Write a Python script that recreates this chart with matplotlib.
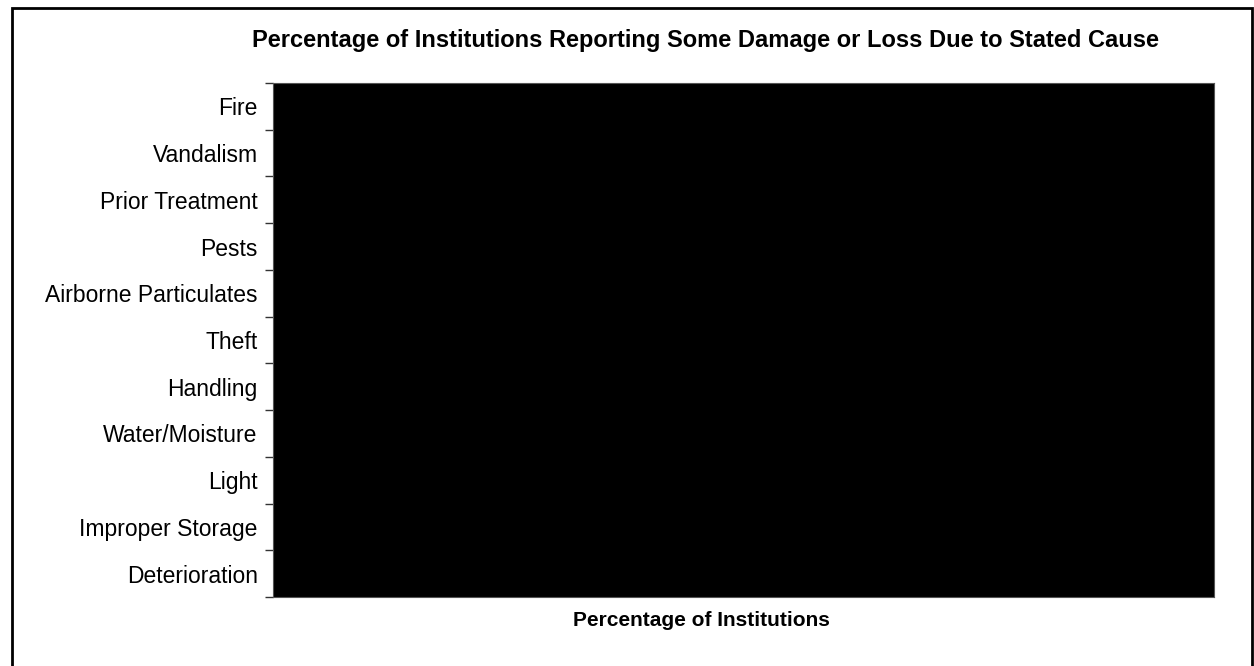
"""
Horizontal bar chart: share of institutions reporting damage or loss by cause.
The scanned original renders the whole plot area solid black.
"""

import matplotlib.pyplot as plt
from matplotlib.patches import Rectangle

plt.rcParams["font.family"] = ["Liberation Sans", "DejaVu Sans"]

# Causes, top to bottom as in the chart
causes = ["Fire", "Vandalism", "Prior Treatment", "Pests", "Airborne Particulates",
          "Theft", "Handling", "Water/Moisture", "Light", "Improper Storage",
          "Deterioration"]
# Bars are indistinguishable from the black plot area in the scan
pct = [100, 100, 100, 100, 100, 100, 100, 100, 100, 100, 100]

W, H = 1254, 666
fig = plt.figure(figsize=(W / 100, H / 100), dpi=100)

# Outer chart frame
fig.patches.append(Rectangle((12 / W, -0.01), (1252 - 12) / W, 1.01 - 8 / H,
                             transform=fig.transFigure, fill=False,
                             edgecolor="black", linewidth=2.0))

left, right, top, bottom = 273, 1214, 83, 597
ax = fig.add_axes([left / W, 1 - bottom / H, (right - left) / W, (bottom - top) / H])

ypos = list(range(len(causes)))
ax.barh(ypos, pct, height=1.0, color="black", edgecolor="black")
ax.set_facecolor("black")
ax.set_xlim(0, 100)
ax.set_ylim(len(causes) - 0.5, -0.5)

ax.set_yticks(ypos)
ax.set_yticklabels(causes, fontsize=16.5)
ax.set_yticks([i - 0.5 for i in range(len(causes) + 1)], minor=True)
ax.tick_params(axis="y", which="major", length=0, pad=11)
ax.tick_params(axis="y", which="minor", length=6, width=1, color="#333333")
ax.set_xticks([])
for s in ax.spines.values():
    s.set_color("#555555")
    s.set_linewidth(0.8)

fig.text(701 / W, 1 - 621 / H, "Percentage of Institutions",
         ha="center", va="center", fontsize=15, fontweight="bold")
fig.text(706 / W, 1 - 40 / H,
         "Percentage of Institutions Reporting Some Damage or Loss Due to Stated Cause",
         ha="center", va="center", fontsize=17, fontweight="bold")

plt.savefig("out.png", dpi=100)
